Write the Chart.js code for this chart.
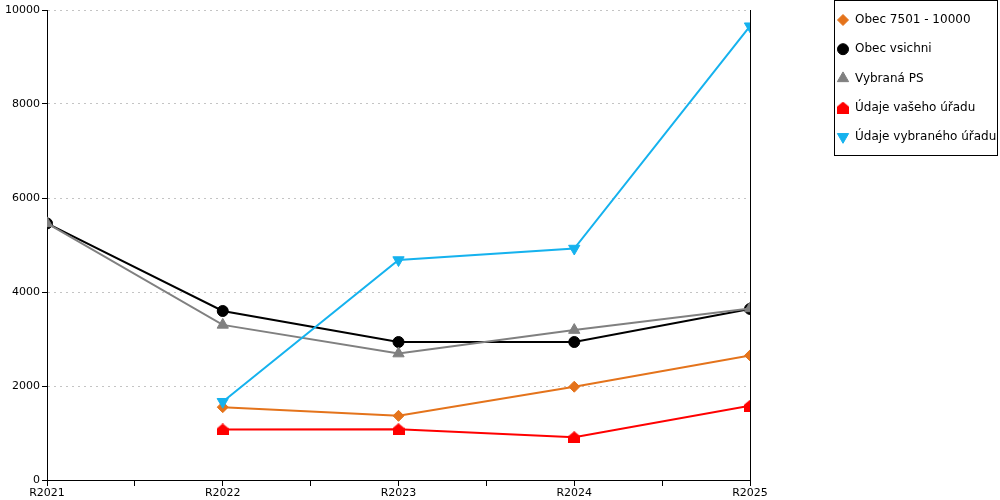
<!DOCTYPE html>
<html>
<head>
<meta charset="utf-8">
<script src="https://cdn.jsdelivr.net/npm/chart.js@4/dist/chart.umd.min.js"></script>
<style>
  html, body { margin: 0; padding: 0; background: #fff; }
  #wrap { width: 1000px; height: 500px; }
</style>
</head>
<body>
<div id="wrap"><canvas id="lineChart" width="1000" height="500"></canvas></div>
<script>
var labels = ['R2021', 'R2022', 'R2023', 'R2024', 'R2025'];
var obec7501 = [null, 1550, 1365, 1985, 2650];
var obecVsichni = [5460, 3596, 2936, 2936, 3640];
var vybranaPS = [5460, 3300, 2690, 3190, 3650];
var vaseUrad = [null, 1075, 1080, 910, 1580];
var vybranyUrad = [null, 1665, 4680, 4925, 9655];
var yTicks = [0, 2000, 4000, 6000, 8000, 10000];

// little "house" marker for the red series
function houseMarker(color) {
    var c = document.createElement('canvas');
    c.width = 12; c.height = 12;
    var g = c.getContext('2d');
    g.fillStyle = color;
    g.beginPath();
    g.moveTo(6, 0);
    g.lineTo(12, 5);
    g.lineTo(12, 12);
    g.lineTo(0, 12);
    g.lineTo(0, 5);
    g.closePath();
    g.fill();
    return c;
}

function points(values) {
    return values.map(function (v, i) { return {x: i, y: v}; });
}

function series(label, values, color, style, radius, rotation, order) {
    return {
        label: label,
        data: points(values),
        borderColor: color,
        backgroundColor: color,
        pointBackgroundColor: color,
        pointBorderColor: color,
        pointStyle: style,
        pointRadius: radius,
        pointHoverRadius: radius,
        pointRotation: rotation,
        pointBorderWidth: 1,
        borderWidth: 2,
        fill: false,
        tension: 0,
        order: order
    };
}

// boxed legend at the right, drawn from the datasets
var boxLegend = {
    id: 'boxLegend',
    afterDraw: function (chart) {
        var ctx = chart.ctx;
        ctx.save();
        ctx.strokeStyle = '#000';
        ctx.lineWidth = 1;
        ctx.strokeRect(834.5, 0.5, 163, 155);
        ctx.font = '12px "DejaVu Sans"';
        ctx.textBaseline = 'middle';
        ctx.textAlign = 'left';
        chart.data.datasets.forEach(function (ds, i) {
            var y = 20 + i * 29.2;
            ctx.fillStyle = ds.pointBackgroundColor;
            ctx.strokeStyle = ds.pointBorderColor;
            ctx.lineWidth = 1;
            Chart.helpers.drawPoint(ctx, {
                pointStyle: ds.pointStyle,
                radius: ds.pointRadius,
                rotation: ds.pointRotation,
                borderWidth: 1
            }, 843, y);
            ctx.fillStyle = '#000';
            ctx.fillText(ds.label, 855, y);
        });
        ctx.restore();
    }
};

new Chart(document.getElementById('lineChart'), {
    type: 'line',
    data: {
        datasets: [
            series('Obec 7501 - 10000', obec7501, '#e4731b', 'rectRot', 5.5, 0, 5),
            series('Obec vsichni', obecVsichni, '#000000', 'circle', 5.5, 0, 4),
            series('Vybraná PS', vybranaPS, '#808080', 'triangle', 6.5, 0, 3),
            series('Údaje vašeho úřadu', vaseUrad, '#ff0000', houseMarker('#ff0000'), 6, 0, 2),
            series('Údaje vybraného úřadu', vybranyUrad, '#15b2ee', 'triangle', 6.5, 180, 1)
        ]
    },
    options: {
        responsive: false,
        animation: false,
        events: [],
        layout: {
            padding: {left: 0, right: 250, top: 10, bottom: 0}
        },
        plugins: {
            legend: {display: false},
            title: {display: false},
            tooltip: {enabled: false}
        },
        scales: {
            x: {
                type: 'linear',
                min: 0,
                max: labels.length - 1,
                afterBuildTicks: function (scale) {
                    var t = [];
                    for (var v = 0; v <= labels.length - 1; v += 0.5) t.push({value: v});
                    scale.ticks = t;
                },
                afterFit: function (scale) { scale.height = 20; },
                ticks: {
                    autoSkip: false,
                    maxRotation: 0,
                    padding: 1,
                    color: '#000',
                    font: {family: 'DejaVu Sans', size: 11},
                    callback: function (v) { return v % 1 === 0 ? labels[v] : ''; }
                },
                grid: {
                    drawOnChartArea: true,
                    color: function (c) {
                        return c.tick && c.tick.value === labels.length - 1 ? '#000' : 'rgba(0,0,0,0)';
                    },
                    tickColor: '#000',
                    tickLength: 6,
                    lineWidth: 1
                },
                border: {display: true, color: '#000', width: 1}
            },
            y: {
                min: 0,
                max: 10000,
                afterBuildTicks: function (scale) {
                    scale.ticks = yTicks.map(function (v) { return {value: v}; });
                },
                afterFit: function (scale) { scale.width = 47; },
                ticks: {
                    padding: 2,
                    color: '#000',
                    font: {family: 'DejaVu Sans', size: 11},
                    callback: function (v) { return String(v); }
                },
                grid: {
                    color: '#c4c4c4',
                    tickColor: '#000',
                    tickLength: 5,
                    lineWidth: 1
                },
                border: {display: true, color: '#000', width: 1, dash: [2, 4]}
            }
        }
    },
    plugins: [boxLegend]
});
</script>
</body>
</html>
